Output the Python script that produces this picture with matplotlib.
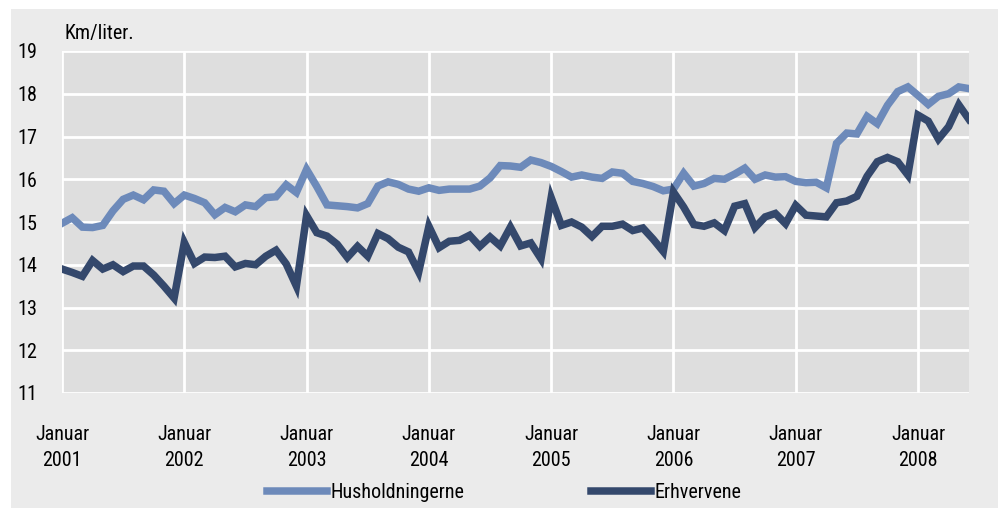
import numpy as np
import matplotlib.pyplot as plt
from matplotlib.patches import Rectangle

plt.rcParams['font.family'] = ['Roboto Condensed', 'Roboto', 'DejaVu Sans']

# monthly km/liter, Jan 2001 - Jun 2008
husholdningerne = [
    14.97, 15.10, 14.88, 14.87, 14.92, 15.26, 15.53, 15.63, 15.52, 15.75, 15.72, 15.43,
    15.63, 15.55, 15.45, 15.17, 15.34, 15.24, 15.40, 15.36, 15.57, 15.59, 15.87, 15.69,
    16.23, 15.83, 15.40, 15.38, 15.36, 15.33, 15.43, 15.84, 15.94, 15.88, 15.77, 15.72,
    15.80, 15.74, 15.77, 15.77, 15.77, 15.84, 16.03, 16.32, 16.31, 16.28, 16.45, 16.39,
    16.30, 16.18, 16.05, 16.10, 16.05, 16.02, 16.17, 16.14, 15.95, 15.90, 15.83, 15.73,
    15.77, 16.14, 15.84, 15.90, 16.02, 16.00, 16.12, 16.26, 16.00, 16.10, 16.05, 16.06,
    15.95, 15.92, 15.93, 15.80, 16.84, 17.08, 17.06, 17.47, 17.30, 17.73, 18.05, 18.16,
    17.96, 17.75, 17.94, 18.00, 18.16, 18.12,
]
erhvervene = [
    13.90, 13.82, 13.73, 14.10, 13.90, 14.00, 13.84, 13.97, 13.97, 13.76, 13.50, 13.22,
    14.52, 14.03, 14.18, 14.17, 14.20, 13.95, 14.03, 14.00, 14.20, 14.34, 14.02, 13.50,
    15.15, 14.75, 14.67, 14.48, 14.17, 14.43, 14.20, 14.73, 14.61, 14.41, 14.30, 13.83,
    14.90, 14.40, 14.55, 14.57, 14.69, 14.43, 14.65, 14.44, 14.88, 14.44, 14.51, 14.14,
    15.57, 14.92, 15.00, 14.88, 14.66, 14.90, 14.90, 14.95, 14.80, 14.86, 14.60, 14.31,
    15.70, 15.35, 14.94, 14.90, 14.98, 14.80, 15.37, 15.43, 14.87, 15.12, 15.20, 14.96,
    15.39, 15.16, 15.14, 15.12, 15.45, 15.49, 15.60, 16.07, 16.41, 16.51, 16.41, 16.10,
    17.50, 17.36, 16.94, 17.23, 17.74, 17.40,
]
years = ['2001', '2002', '2003', '2004', '2005', '2006', '2007', '2008']

months = np.arange(len(husholdningerne))

fig = plt.figure(figsize=(9.98, 5.08), dpi=100, facecolor='white')
fig.patches.append(Rectangle((11 / 998, 0), 1, 1 - 9 / 508, transform=fig.transFigure,
                             facecolor='#ebebeb', edgecolor='none', zorder=-10))
ax = fig.add_axes([62 / 998, 1 - 393 / 508, 907 / 998, 342 / 508])
ax.set_facecolor('#dedede')

ax.plot(months, husholdningerne, color='#6d8aba', lw=5.4, solid_joinstyle='miter',
        label='Husholdningerne', zorder=3)
ax.plot(months, erhvervene, color='#34486c', lw=5.4, solid_joinstyle='miter',
        label='Erhvervene', zorder=3)

ax.set_xlim(0, len(months) - 1)
ax.set_ylim(11, 19)
ax.set_xticks(np.arange(0, len(months), 12))
ax.set_xticklabels(['Januar\n' + y for y in years], linespacing=1.5)
ax.set_yticks(range(11, 20))
ax.tick_params(length=0, labelsize=14.5)
ax.tick_params(axis='x', pad=23)
ax.tick_params(axis='y', pad=18)
ax.grid(True, color='white', lw=2)
ax.set_axisbelow(True)
for s in ax.spines.values():
    s.set_visible(False)

fig.text(65 / 998, 1 - 39 / 508, 'Km/liter.', fontsize=14.5, va='baseline')

fig.legend(loc='center', bbox_to_anchor=(0.505, 1 - 493 / 508), ncol=2, frameon=False,
           fontsize=14.5, handlelength=3.0, handletextpad=0.15, columnspacing=6.3)

plt.savefig('out.png', dpi=100, facecolor=fig.get_facecolor())
